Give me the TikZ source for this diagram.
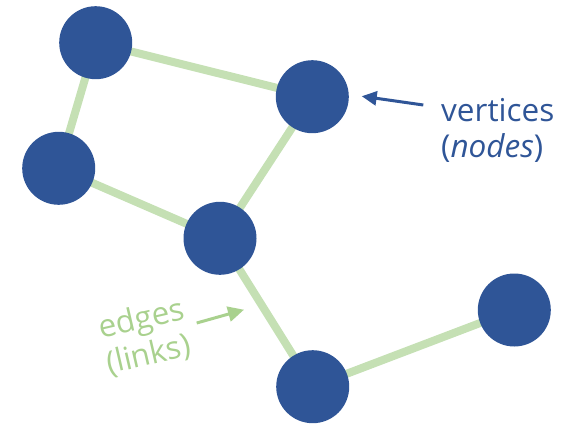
\documentclass[tikz,border=0pt]{standalone}
\usepackage{fontspec}
\setmainfont{Open Sans}
\usetikzlibrary{arrows.meta,backgrounds}
\definecolor{vblue}{HTML}{2F5597}
\definecolor{egreen}{HTML}{C5E0B4}
\definecolor{lgreen}{HTML}{A9D18E}
\tikzset{
  vertex/.style={circle,fill=vblue,minimum size=73pt,inner sep=0pt},
  edge/.style={egreen,line width=8pt},
  vlabel/.style={text=vblue,font=\fontsize{31.5}{36}\selectfont,inner sep=0pt,anchor=base west},
  elabel/.style={text=lgreen,font=\fontsize{31.5}{36}\selectfont,inner sep=0pt,anchor=base west,transform shape},
  vpointer/.style={vblue,line width=3pt,-{Triangle[length=15pt,width=14pt]}},
  epointer/.style={lgreen,line width=3pt,-{Triangle[length=16pt,width=15pt]}}
}
\begin{document}
\begin{tikzpicture}[x=1pt,y=-1pt]
  \useasboundingbox (0,0) rectangle (577,425);
  % vertices
  \node[vertex] (a) at (95.7,42.7) {};
  \node[vertex] (b) at (312.3,96.7) {};
  \node[vertex] (c) at (58.7,168.3) {};
  \node[vertex] (d) at (220,238.3) {};
  \node[vertex] (e) at (514.3,310) {};
  \node[vertex] (f) at (312.7,386.7) {};
  % edges, behind the vertices
  \begin{pgfonlayer}{background}
    \draw[edge] (a.center) -- (b.center);
    \draw[edge] (a.center) -- (c.center);
    \draw[edge] (c.center) -- (d.center);
    \draw[edge] (b.center) -- (d.center);
    \draw[edge] (d.center) -- (f.center);
    \draw[edge] (f.center) -- (e.center);
  \end{pgfonlayer}
  % labels
  \node[vlabel] (vt1) at (441,121.7) {vertices};
  \node[vlabel] (vt2) at (441,157.3) {(\textit{nodes})};
  \begin{scope}[shift={(101,339)},rotate=13]
    \node[elabel] (et1) at (0,0) {edges};
    \node[elabel] (et2) at (0,36) {(links)};
  \end{scope}
  % pointers
  \coordinate (vtail) at (423.3,105);
  \coordinate (vtip) at (361.7,96.2);
  \draw[vpointer] (vtail) -- (vtip);
  \coordinate (etail) at (196.7,323);
  \coordinate (etip) at (244,309.7);
  \draw[epointer] (etail) -- (etip);
\end{tikzpicture}
\end{document}
